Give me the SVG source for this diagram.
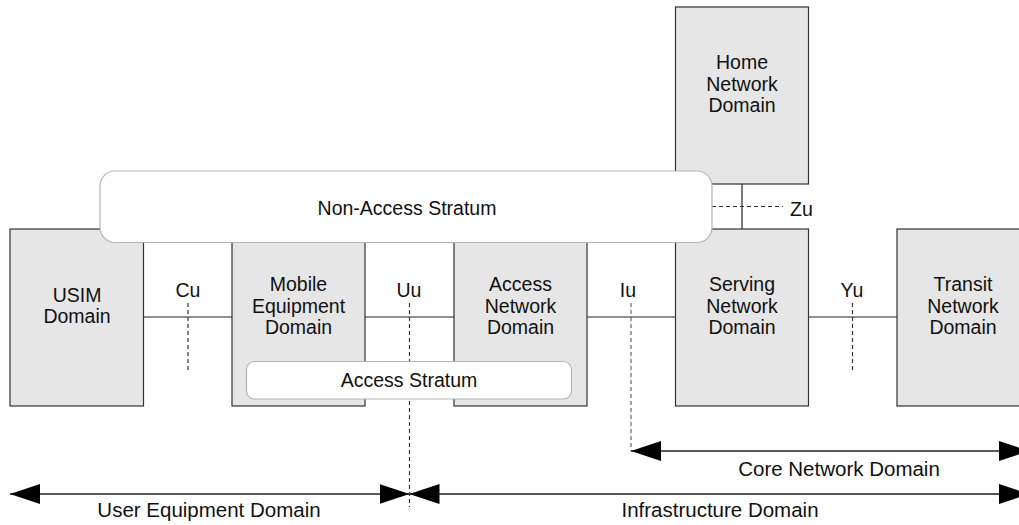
<svg xmlns="http://www.w3.org/2000/svg" width="1019" height="525" viewBox="0 0 1019 525">
  <style>
    .domain { fill: #e6e6e6; stroke: #333; stroke-width: 1.2; }
    .stratum { fill: #fff; stroke: #b4b4b4; stroke-width: 1.2; }
    .link { stroke: #222; stroke-width: 1.2; fill: none; }
    .ref { stroke: #333; stroke-width: 1.2; stroke-dasharray: 4 3; fill: none; }
    .span { stroke: #222; stroke-width: 1.3; fill: none; }
    text { font-family: "Liberation Sans", Arial, sans-serif; font-size: 19.5px; fill: #111; text-anchor: middle; }
    .extent-label { font-size: 20.5px; }
  </style>
  <defs>
    <marker id="head" viewBox="0 0 30 20" refX="30" refY="10" markerWidth="30" markerHeight="20" markerUnits="userSpaceOnUse" orient="auto-start-reverse">
      <path d="M0,0 L30,10 L0,20 Z" fill="#000"/>
    </marker>
  </defs>

  <rect width="1019" height="525" fill="#fff"/>

  <!-- links between domains and reference points -->
  <g id="connectors">
    <line class="link" x1="143.5" y1="317" x2="232" y2="317"/>
    <line class="link" x1="365" y1="317" x2="454" y2="317"/>
    <line class="link" x1="587" y1="317" x2="675" y2="317"/>
    <line class="link" x1="809" y1="317" x2="897" y2="317"/>
    <line class="link" x1="742" y1="184" x2="742" y2="229"/>
    <line class="ref" x1="188" y1="303" x2="188" y2="372"/>
    <line class="ref" x1="409.5" y1="303" x2="409.5" y2="507"/>
    <line class="ref" x1="631" y1="303" x2="631" y2="451" style="stroke:#666"/>
    <line class="ref" x1="852.5" y1="303" x2="852.5" y2="372"/>
    <line class="ref" x1="712" y1="206.5" x2="783" y2="206.5"/>
  </g>

  <g id="usim">
    <rect class="domain" x="10" y="229" width="133.5" height="177"/>
    <text x="77" y="302">USIM</text>
    <text x="77" y="323">Domain</text>
  </g>
  <g id="mobile-equipment">
    <rect class="domain" x="232" y="229" width="133" height="177"/>
    <text x="298.5" y="291">Mobile</text>
    <text x="298.5" y="312.5">Equipment</text>
    <text x="298.5" y="334">Domain</text>
  </g>
  <g id="access-network">
    <rect class="domain" x="454" y="229" width="133" height="177"/>
    <text x="520.5" y="291">Access</text>
    <text x="520.5" y="312.5">Network</text>
    <text x="520.5" y="334">Domain</text>
  </g>
  <g id="serving-network">
    <rect class="domain" x="675.5" y="229" width="133" height="177"/>
    <text x="742" y="291">Serving</text>
    <text x="742" y="312.5">Network</text>
    <text x="742" y="334">Domain</text>
  </g>
  <g id="transit-network">
    <rect class="domain" x="897" y="229" width="133" height="177"/>
    <text x="963" y="291">Transit</text>
    <text x="963" y="312.5">Network</text>
    <text x="963" y="334">Domain</text>
  </g>
  <g id="home-network">
    <rect class="domain" x="675.5" y="7" width="133" height="177"/>
    <text x="742" y="69">Home</text>
    <text x="742" y="90.5">Network</text>
    <text x="742" y="112">Domain</text>
  </g>

  <g id="non-access-stratum">
    <rect class="stratum" x="100" y="171" width="612" height="71.5" rx="15" ry="15"/>
    <text x="407" y="215">Non-Access Stratum</text>
  </g>
  <g id="access-stratum">
    <rect class="stratum" x="246.5" y="361.5" width="325" height="37.5" rx="8" ry="8"/>
    <text x="409" y="387">Access Stratum</text>
  </g>

  <!-- reference point labels -->
  <g id="reference-points">
    <text x="188" y="297">Cu</text>
    <text x="409" y="297">Uu</text>
    <text x="628" y="297">Iu</text>
    <text x="852" y="297">Yu</text>
    <text x="790" y="215.5" style="text-anchor:start">Zu</text>
  </g>

  <!-- extent of the grouped domains -->
  <g id="extents">
    <line class="span" x1="10" y1="494" x2="409.5" y2="494" marker-start="url(#head)" marker-end="url(#head)"/>
    <line class="span" x1="409.5" y1="494" x2="1029" y2="494" style="stroke:#555;stroke-width:1.8" marker-start="url(#head)" marker-end="url(#head)"/>
    <line class="span" x1="631" y1="451" x2="1029" y2="451" marker-start="url(#head)" marker-end="url(#head)"/>
    <text class="extent-label" x="209" y="517">User Equipment Domain</text>
    <text class="extent-label" x="720" y="517">Infrastructure Domain</text>
    <text class="extent-label" x="839" y="476">Core Network Domain</text>
  </g>
</svg>
